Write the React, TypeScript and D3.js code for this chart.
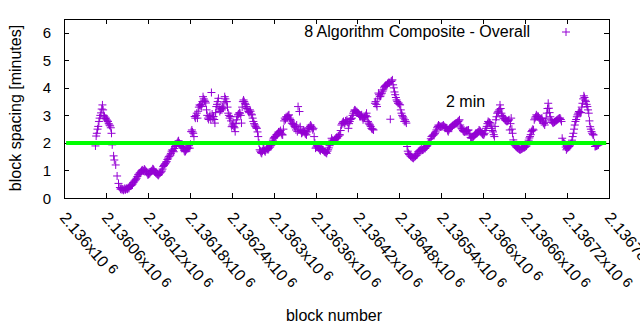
import React from "react";
import * as d3 from "d3";

const BASE = 2136000;
// [block offset from 2136000, minutes]
const points: [number, number][] = [
  [45, 1.89], [46, 2.25], [47, 2.35], [48, 2.5], [49, 2.6], [50, 2.78], [51, 2.9], [52, 3.0], [53, 3.09], [54, 3.23], [55, 3.38], [56, 3.2], [57, 3.0],
  [58, 2.95], [59, 2.88], [60, 2.9], [61, 2.84], [62, 2.8], [63, 2.78], [64, 2.7], [65, 2.65], [66, 2.62], [67, 2.55], [68, 2.35], [69, 1.93],
  [71, 1.53], [72, 1.38], [74, 1.2], [76, 0.8],
  [78, 0.53], [80, 0.38], [81, 0.32], [82, 0.35], [83, 0.3], [84, 0.33], [85, 0.28], [86, 0.31], [87, 0.35], [88, 0.3],
  [89, 0.33], [90, 0.36], [91, 0.32], [92, 0.38], [93, 0.35], [94, 0.42], [95, 0.44], [96, 0.45], [97, 0.47], [98, 0.5], [99, 0.55],
  [100, 0.58], [101, 0.62], [102, 0.65], [103, 0.68], [104, 0.72], [105, 0.78], [106, 0.84], [107, 0.86], [108, 0.9], [109, 0.92],
  [110, 0.95], [111, 0.99], [112, 1.02], [113, 1.0], [114, 0.98], [115, 1.05], [116, 1.02], [117, 0.98], [118, 0.95], [119, 0.9],
  [120, 0.84], [121, 0.86], [122, 0.88], [123, 0.9], [124, 0.95], [125, 0.98], [126, 1.0], [127, 1.06], [128, 1.04], [129, 1.0],
  [130, 0.95], [131, 0.92], [132, 0.9], [133, 0.87], [134, 0.85], [135, 0.82], [136, 0.86], [137, 0.9], [138, 0.92], [139, 0.95],
  [140, 0.98], [141, 1.05], [142, 1.14], [143, 1.18], [144, 1.22], [145, 1.25], [146, 1.3], [147, 1.32], [148, 1.4], [149, 1.45],
  [150, 1.5], [151, 1.52], [152, 1.56], [153, 1.62], [154, 1.7], [155, 1.75], [156, 1.72], [157, 1.68], [158, 1.8], [159, 1.87],
  [160, 1.9], [161, 1.93], [162, 2.0], [163, 2.05], [164, 2.08], [165, 2.0], [166, 1.95], [167, 1.9], [168, 1.87], [169, 1.85],
  [170, 1.82], [171, 1.8], [172, 1.72], [173, 1.68], [174, 1.7], [175, 1.75], [176, 1.78], [177, 1.85], [178, 1.81], [179, 1.9],
  [180, 1.81], [181, 1.95], [182, 2.41], [183, 2.47], [184, 2.4], [185, 2.35], [186, 2.23], [187, 2.96], [188, 2.9], [189, 3.0],
  [190, 3.08], [191, 2.9], [192, 3.15], [193, 3.3], [194, 3.38], [195, 3.35], [196, 3.4], [197, 3.32], [198, 3.5], [199, 3.68],
  [200, 3.6], [201, 3.55], [202, 3.5], [203, 3.45], [204, 3.2], [205, 3.0], [206, 2.9], [207, 2.85], [208, 2.95], [209, 3.0],
  [210, 2.84], [211, 3.83], [212, 3.05], [213, 2.9], [214, 2.96], [215, 2.85], [216, 2.72], [217, 3.1], [218, 3.32], [219, 3.4],
  [220, 3.5], [221, 3.62], [222, 3.3], [223, 3.14], [224, 3.2], [225, 3.25], [226, 3.2], [227, 3.3], [228, 3.26], [229, 3.45],
  [230, 3.68], [231, 3.6], [232, 3.5], [233, 3.5], [234, 3.3], [235, 3.08], [236, 3.0], [237, 2.9], [238, 2.96], [239, 2.8],
  [240, 2.59], [241, 2.65], [242, 2.72], [243, 2.6], [244, 2.55], [245, 2.41], [246, 2.7], [247, 2.84], [248, 2.95], [249, 3.02],
  [250, 3.05], [251, 3.1], [252, 3.08], [253, 3.0], [254, 2.72], [255, 3.3], [256, 3.5], [257, 3.56], [258, 3.5], [259, 3.44],
  [260, 3.4], [261, 3.32], [262, 3.25], [263, 3.2], [264, 3.14], [265, 3.1], [266, 3.2], [267, 3.15], [268, 3.05], [269, 3.02],
  [270, 2.9], [271, 2.78], [272, 2.7], [273, 2.65], [274, 2.6], [275, 2.55], [276, 2.53], [277, 2.4], [278, 2.23], [279, 2.0],
  [280, 1.75], [281, 1.7], [282, 1.65], [283, 1.62], [284, 1.7], [285, 1.81], [286, 1.78], [287, 1.72], [288, 1.68], [289, 1.75],
  [290, 1.81], [291, 1.78], [292, 1.75], [293, 1.8], [294, 1.85], [295, 1.85], [296, 1.9], [297, 1.93], [298, 2.05], [299, 2.1],
  [300, 2.17], [301, 2.2], [302, 2.23], [303, 2.25], [304, 2.3], [305, 2.29], [306, 2.35], [307, 2.4], [308, 2.38], [309, 2.41],
  [310, 2.45], [311, 2.35], [312, 2.3], [313, 2.29], [314, 2.5], [315, 2.8], [316, 2.9], [317, 2.85], [318, 2.95], [319, 2.9],
  [320, 2.96], [321, 3.0], [322, 3.02], [323, 2.9], [324, 2.85], [325, 2.8], [326, 2.72], [327, 2.7], [328, 2.68], [329, 2.65],
  [330, 2.6], [331, 2.55], [332, 2.47], [333, 2.65], [334, 2.41], [335, 3.32], [336, 2.5], [337, 3.14],
  [338, 2.59], [339, 2.45], [340, 2.35], [341, 2.38], [342, 2.42], [343, 2.45], [344, 2.41], [345, 2.35], [346, 2.32], [347, 2.29],
  [348, 2.4], [349, 2.5], [350, 2.55], [351, 2.53], [352, 2.6], [353, 2.65], [354, 2.6], [355, 2.55], [356, 2.48], [357, 2.53],
  [358, 2.23], [359, 2.0], [360, 1.81], [361, 1.85], [362, 1.9], [363, 1.87], [364, 1.82], [365, 1.8], [366, 1.75], [367, 1.72],
  [368, 1.8], [369, 1.78], [370, 1.75], [371, 1.75], [372, 1.7], [373, 1.68], [374, 1.66], [375, 1.65], [376, 1.62], [377, 1.7],
  [378, 1.75], [379, 1.82], [380, 1.9], [381, 1.95], [382, 2.05], [383, 2.17], [384, 2.1], [385, 2.05], [386, 2.08], [387, 2.12],
  [388, 2.11], [389, 2.15], [390, 2.2], [391, 2.18], [392, 2.23], [393, 2.25], [394, 2.3], [395, 2.29], [396, 2.45], [397, 2.65],
  [398, 2.7], [399, 2.75], [400, 2.78], [401, 2.7], [402, 2.72], [403, 2.8], [404, 2.78], [405, 2.84], [406, 2.75], [407, 2.53],
  [408, 2.7], [409, 2.78], [410, 2.85], [411, 2.88], [412, 2.9], [413, 3.0], [414, 3.08], [415, 3.15], [416, 3.2], [417, 3.18],
  [418, 3.12], [419, 3.14], [420, 3.1], [421, 3.08], [422, 3.05], [423, 3.0], [424, 2.96], [425, 2.98], [426, 3.02], [427, 2.92],
  [428, 2.84], [429, 2.9], [430, 2.92], [431, 2.96], [432, 3.0], [433, 3.08], [434, 2.95], [435, 2.78], [436, 2.72], [437, 2.68],
  [438, 2.65], [439, 2.6], [440, 2.53], [441, 2.5], [442, 2.5], [443, 2.47], [445, 3.44], [446, 3.5], [447, 3.4], [448, 3.32],
  [449, 3.6], [450, 3.81], [451, 3.75], [452, 3.68], [453, 3.7], [454, 3.78], [455, 3.81], [456, 3.88], [457, 3.93], [458, 4.0],
  [459, 4.05], [460, 4.08], [461, 4.1], [462, 4.11], [463, 4.15], [464, 4.17], [465, 4.2], [466, 4.18], [467, 2.86], [468, 4.23],
  [469, 4.25], [470, 4.29], [471, 4.11], [472, 4.0], [473, 3.85], [474, 3.75], [475, 3.65], [476, 3.56], [477, 3.5], [478, 3.44],
  [479, 3.45], [480, 3.4], [481, 3.38], [482, 3.2], [483, 3.08], [484, 3.0], [485, 2.95], [486, 2.9], [487, 2.78], [488, 2.84],
  [489, 2.78], [490, 2.72], [491, 1.87], [492, 1.7], [493, 1.62], [494, 1.58], [495, 1.56], [496, 1.52], [497, 1.5], [498, 1.48],
  [499, 1.46], [500, 1.44], [501, 1.48], [502, 1.5], [503, 1.52], [504, 1.55], [505, 1.56], [506, 1.62], [507, 1.68], [508, 1.7],
  [509, 1.72], [510, 1.75], [511, 1.72], [512, 1.78], [513, 1.74], [514, 1.75], [515, 1.78], [516, 1.82], [517, 1.8], [518, 1.85],
  [519, 1.87], [520, 1.9], [521, 1.95], [522, 2.0], [523, 2.02], [524, 2.05], [525, 2.15], [526, 2.23], [527, 2.25], [528, 2.28],
  [529, 2.29], [530, 2.32], [531, 2.35], [532, 2.4], [533, 2.47], [534, 2.55], [535, 2.6], [536, 2.65], [537, 2.62], [538, 2.6],
  [539, 2.58], [540, 2.6], [541, 2.59], [542, 2.62], [543, 2.65], [544, 2.6], [545, 2.58], [546, 2.55], [547, 2.55], [548, 2.53],
  [549, 2.45], [550, 2.41], [551, 2.48], [552, 2.53], [553, 2.55], [554, 2.58], [555, 2.6], [556, 2.62], [557, 2.65], [558, 2.66],
  [559, 2.68], [560, 2.7], [561, 2.7], [562, 2.72], [563, 2.75], [564, 2.78], [565, 2.8], [566, 2.84], [567, 2.65], [568, 2.58],
  [569, 2.53], [570, 2.5], [571, 2.45], [572, 2.42], [573, 2.4], [574, 2.41], [575, 2.42], [576, 2.45], [577, 2.44], [578, 2.46],
  [579, 2.47], [580, 2.35], [581, 2.29], [582, 2.2], [583, 2.17], [584, 2.2], [585, 2.22], [586, 2.23], [587, 2.26], [588, 2.3],
  [589, 2.32], [590, 2.34], [591, 2.35], [592, 2.38], [593, 2.4], [594, 2.47], [595, 2.45], [596, 2.42], [597, 2.38], [598, 2.35],
  [599, 2.32], [600, 2.29], [601, 2.3], [602, 2.35], [603, 2.45], [604, 2.53], [605, 2.6], [606, 2.7], [607, 2.78], [608, 2.75],
  [609, 2.74], [610, 2.72], [611, 2.65], [612, 2.53], [613, 2.45], [614, 2.4], [615, 2.3], [616, 2.23], [617, 2.6], [618, 2.84],
  [619, 2.95], [620, 3.08], [621, 3.12], [622, 3.15], [623, 3.2], [624, 3.38], [625, 3.25], [626, 3.08], [627, 3.0], [628, 2.95],
  [629, 2.9], [630, 2.88], [631, 2.84], [632, 2.82], [633, 2.8], [634, 2.78], [635, 2.8], [636, 2.82], [637, 2.84], [638, 2.47],
  [639, 2.7], [640, 2.9], [641, 2.5], [642, 2.35], [643, 2.11], [644, 2.0], [645, 1.93], [646, 1.9], [647, 1.86], [648, 1.84],
  [649, 1.82], [650, 1.8], [651, 1.78], [652, 1.76], [653, 1.75], [654, 1.77], [655, 1.78], [656, 1.8], [657, 1.84], [658, 1.82],
  [659, 1.84], [660, 1.85], [661, 1.88], [662, 1.89], [663, 1.95], [664, 2.05], [665, 2.1], [666, 2.18], [667, 2.23], [668, 2.3],
  [669, 2.41], [670, 2.45], [671, 2.5], [672, 2.47], [673, 2.84], [674, 2.9], [675, 2.95], [676, 3.02], [677, 2.98], [678, 2.95],
  [679, 2.96], [680, 2.9], [681, 2.84], [682, 2.86], [683, 2.88], [684, 2.9], [685, 2.8], [686, 2.72], [687, 2.7], [688, 2.65],
  [689, 2.75], [690, 2.9], [691, 3.08], [692, 3.25], [693, 3.44], [694, 3.26], [695, 3.1], [696, 2.95], [697, 2.84], [698, 2.8],
  [699, 2.75], [700, 2.72], [701, 2.74], [702, 2.76], [703, 2.78], [704, 2.8], [705, 2.82], [706, 2.84], [707, 2.86], [708, 2.88],
  [709, 2.9], [710, 2.9], [711, 2.85], [712, 2.78], [713, 2.17], [714, 2.05], [715, 2.0], [716, 1.98], [717, 1.96], [718, 1.85],
  [719, 1.75], [720, 1.8], [721, 1.82], [722, 1.85], [723, 1.87], [724, 1.9], [725, 1.95], [726, 1.99], [727, 2.1], [728, 2.23],
  [729, 2.35], [730, 2.5], [731, 2.65], [732, 2.78], [733, 2.85], [734, 2.95], [735, 3.02], [736, 3.08], [737, 3.14], [738, 3.12],
  [739, 3.1], [740, 3.1], [741, 3.3], [742, 3.44], [743, 3.6], [744, 3.71], [745, 3.65], [746, 3.55], [747, 3.5], [748, 3.4],
  [749, 3.32], [750, 3.2], [751, 3.08], [752, 2.8], [753, 2.59], [754, 2.5], [755, 2.41], [756, 2.35], [757, 2.3], [758, 2.29],
  [759, 2.0], [760, 1.87], [761, 1.88], [762, 1.89], [763, 1.9], [764, 1.92], [765, 1.93],
];

const xTickOffsets = [0, 60, 120, 180, 240, 300, 360, 420, 480, 540, 600, 660, 720, 780];
const xTickLabels = [
  "2.136", "2.13606", "2.13612", "2.13618", "2.13624", "2.1363", "2.13636",
  "2.13642", "2.13648", "2.13654", "2.1366", "2.13666", "2.13672", "2.13678",
];
const yTicks = [0, 1, 2, 3, 4, 5, 6];
const targetValue = 2;
const targetFrom = 3;
const targetTo = 776;
const seriesName = "8 Algorithm Composite - Overall";
const annotation = "2 min";
const xTitle = "block number";
const yTitle = "block spacing [minutes]";

const W = 640, H = 330;
const M = { left: 64, right: 609, top: 19, bottom: 198 };
const FONT = "'Liberation Sans', Arial, sans-serif";
const PURPLE = "#9400d3";

export default function App() {
  const x = d3.scaleLinear().domain([BASE, BASE + 780]).range([M.left, M.right]);
  const y = d3.scaleLinear().domain([0, 6.5]).range([M.bottom, M.top]);
  const tl = 5;
  const ps = 4;
  const plus = (cx: number, cy: number) => `M${cx - ps},${cy}H${cx + ps}M${cx},${cy - ps}V${cy + ps}`;
  const pathD = points.map(([o, v]) => plus(x(BASE + o), y(v))).join("");
  return (
    <svg width={W} height={H} style={{ position: "absolute", left: 0, top: 0, background: "#fff" }} fontFamily={FONT}>
      <rect x={0} y={0} width={W} height={H} fill="#fff" />
      <g stroke="#000" strokeWidth={1}>
        {xTickOffsets.map((o) => {
          const xx = Math.round(x(BASE + o)) + 0.5;
          return (
            <g key={o}>
              <line x1={xx} x2={xx} y1={M.bottom} y2={M.bottom - tl} />
              <line x1={xx} x2={xx} y1={M.top} y2={M.top + tl} />
            </g>
          );
        })}
        {yTicks.map((t) => {
          const yy = Math.round(y(t)) + 0.5;
          return (
            <g key={t}>
              <line x1={M.left} x2={M.left + tl} y1={yy} y2={yy} />
              <line x1={M.right} x2={M.right - tl} y1={yy} y2={yy} />
            </g>
          );
        })}
      </g>
      <g fontSize={15} textAnchor="end" fill="#000">
        {yTicks.map((t) => (
          <text key={t} x={51} y={y(t) + 5.5}>{t}</text>
        ))}
      </g>
      <g fontSize={16} fill="#000">
        {xTickOffsets.map((o, i) => {
          const xx = x(BASE + o);
          return (
            <text key={o} transform={`translate(${xx - 5},${M.bottom + 20}) rotate(50)`}>
              {xTickLabels[i]}x10<tspan dx={4} dy={-4} fontSize={14}>6</tspan>
            </text>
          );
        })}
      </g>
      <path d={pathD} stroke={PURPLE} strokeWidth={1} fill="none" />
      <line x1={x(BASE + targetFrom)} x2={x(BASE + targetTo)} y1={y(targetValue)} y2={y(targetValue)} stroke="#00ff00" strokeWidth={4} />
      <rect x={M.left + 0.5} y={M.top + 0.5} width={M.right - M.left} height={M.bottom - M.top} fill="none" stroke="#000" strokeWidth={1} />
      <text x={530} y={37} fontSize={16} textAnchor="end" fill="#000">{seriesName}</text>
      <path d={plus(566, 32)} stroke={PURPLE} strokeWidth={1} />
      <text x={446} y={107} fontSize={16} fill="#000">{annotation}</text>
      <text x={334} y={321} fontSize={16} textAnchor="middle" fill="#000">{xTitle}</text>
      <text transform={`translate(21,108) rotate(-90)`} fontSize={16} textAnchor="middle" fill="#000">{yTitle}</text>
    </svg>
  );
}
